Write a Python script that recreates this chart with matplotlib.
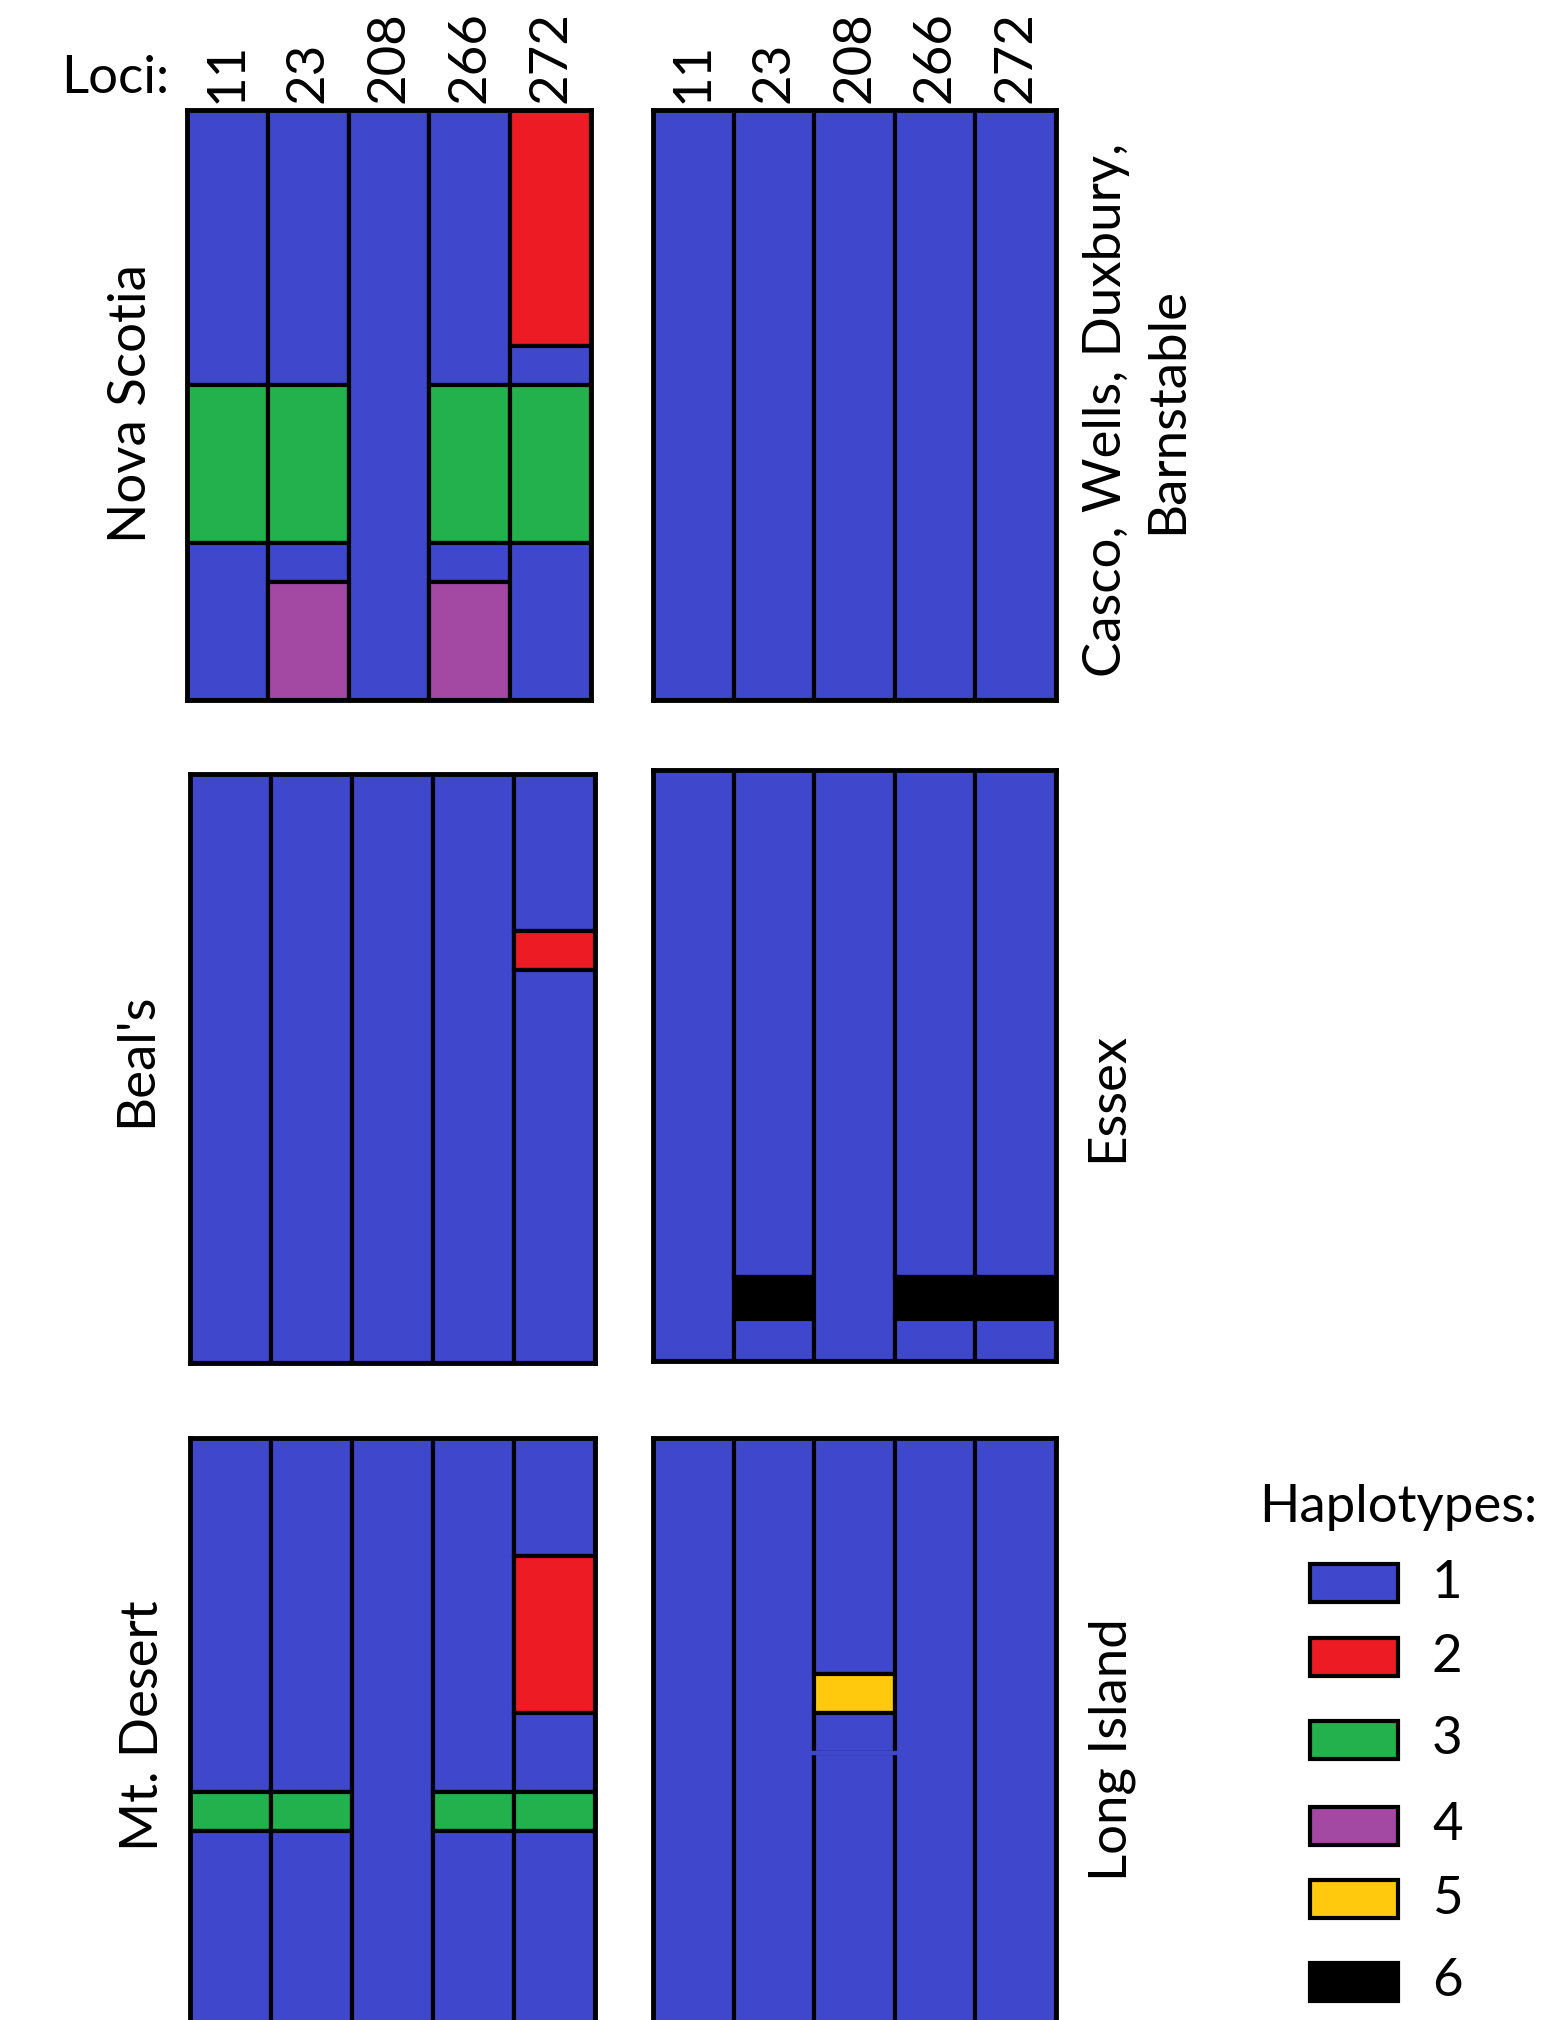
import numpy as np
import matplotlib.pyplot as plt
from matplotlib.patches import Rectangle

plt.rcParams['font.family'] = ['Lato', 'DejaVu Sans']

loci = ['11', '23', '208', '266', '272']
hap_ids = [1, 2, 3, 4, 5, 6]
hap_colors = ['#3F48CC', '#ED1C24', '#22B14C', '#A349A4', '#FFC90E', '#000000']

# segments for each locus, top to bottom: (haplotype, number of individuals)
nova_scotia = [[(1, 7), (3, 4), (1, 4)],
               [(1, 7), (3, 4), (1, 1), (4, 3)],
               [(1, 15)],
               [(1, 7), (3, 4), (1, 1), (4, 3)],
               [(2, 6), (1, 1), (3, 4), (1, 4)]]
casco = [[(1, 15)], [(1, 15)], [(1, 15)], [(1, 15)], [(1, 15)]]
beals = [[(1, 15)], [(1, 15)], [(1, 15)], [(1, 15)],
         [(1, 4), (2, 1), (1, 10)]]
essex = [[(1, 14)],
         [(1, 12), (6, 1), (1, 1)],
         [(1, 14)],
         [(1, 12), (6, 1), (1, 1)],
         [(1, 12), (6, 1), (1, 1)]]
mt_desert = [[(1, 9), (3, 1), (1, 5)],
             [(1, 9), (3, 1), (1, 5)],
             [(1, 15)],
             [(1, 9), (3, 1), (1, 5)],
             [(1, 3), (2, 4), (1, 2), (3, 1), (1, 5)]]
long_island = [[(1, 15)], [(1, 15)],
               [(1, 6), (5, 1), (1, 1), (1, 7)],
               [(1, 15)], [(1, 15)]]

W, H = 1551, 2020
fig = plt.figure(figsize=(W / 100, H / 100), dpi=100)


def px_rect(l, t, r, b):
    return [l / W, 1 - b / H, (r - l) / W, (b - t) / H]


def draw_panel(rect, data, show_loci=False):
    ax = fig.add_axes(px_rect(*rect))
    n = sum(c for _, c in data[0])
    for i, segs in enumerate(data):
        bottom = 0
        prev = None
        for hap, cnt in segs:
            col = hap_colors[hap_ids.index(hap)]
            ax.bar(i + 0.5, cnt, bottom=bottom, width=1, color=col,
                   edgecolor='black', linewidth=3, zorder=2)
            if prev == hap:
                # boundary between two pieces of the same haplotype
                ax.plot([i - 0.04, i + 1.04], [bottom, bottom], color=col,
                        lw=3.2, zorder=3, solid_capstyle='butt')
            bottom += cnt
            prev = hap
    ax.set_xlim(0, 5)
    ax.set_ylim(n, 0)
    ax.set_yticks([])
    for s in ax.spines.values():
        s.set_linewidth(3.5)
        s.set_zorder(4)
    if show_loci:
        ax.xaxis.tick_top()
        ax.set_xticks(np.arange(5) + 0.5, loci, rotation=90)
        ax.tick_params(axis='x', length=0, pad=5, labelsize=38)
    else:
        ax.set_xticks([])
    return ax


draw_panel((187, 110, 591, 700), nova_scotia, True)
draw_panel((653, 110, 1056, 700), casco, True)
draw_panel((190, 774, 595, 1363), beals)
draw_panel((653, 770, 1056, 1361), essex)
draw_panel((190, 1438, 595, 2028), mt_desert)
draw_panel((653, 1438, 1056, 2028), long_island)

fs = 38
fig.text(61 / W, 1 - 93 / H, 'Loci:', fontsize=fs, ha='left', va='baseline')

# population names
fig.text(132 / W, 1 - 404 / H, 'Nova Scotia', rotation=90, fontsize=fs, ha='center', va='center')
fig.text(137 / W, 1 - 1060 / H, "Beal's", rotation=90, fontsize=fs, ha='center', va='center')
fig.text(143 / W, 1 - 1726 / H, 'Mt. Desert', rotation=90, fontsize=fs, ha='center', va='center')
fig.text(1137 / W, 1 - 410 / H, 'Casco, Wells, Duxbury,\nBarnstable', rotation=90,
         fontsize=fs, ha='center', va='center', multialignment='center', linespacing=1.35)
fig.text(1108 / W, 1 - 1097 / H, 'Essex', rotation=90, fontsize=fs, ha='center', va='center')
fig.text(1112 / W, 1 - 1750 / H, 'Long Island', rotation=90, fontsize=fs, ha='center', va='center')

# legend
fig.text(1259 / W, 1 - 1522 / H, 'Haplotypes:', fontsize=fs, ha='left', va='baseline')
leg_y = [1583, 1657, 1740, 1826, 1899, 1982]
for hap, col, yc in zip(hap_ids, hap_colors, leg_y):
    fig.add_artist(Rectangle((1310 / W, 1 - (yc + 19) / H), 88 / W, 38 / H,
                             transform=fig.transFigure, facecolor=col,
                             edgecolor='black', linewidth=3))
    fig.text(1432 / W, 1 - yc / H, str(hap), fontsize=fs, ha='left', va='center')

fig.savefig('out.png', dpi=100)
